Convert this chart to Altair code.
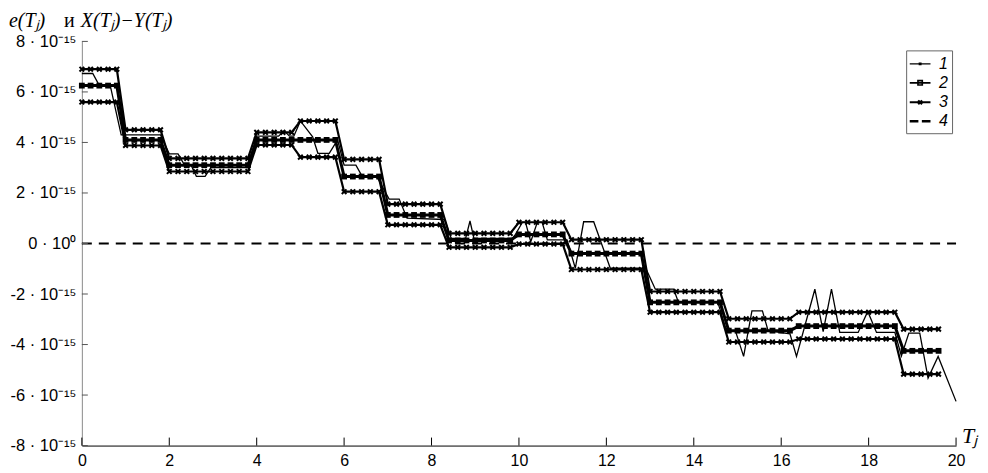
import altair as alt
import pandas as pd

# ---------------- data (values in units of 1e-15) ----------------
T_GRID = [0.0, 0.2, 0.4, 0.6, 0.8, 1.0, 1.2, 1.4, 1.6, 1.8,
          2.0, 2.2, 2.4, 2.6, 2.8, 3.0, 3.2, 3.4, 3.6, 3.8,
          4.0, 4.2, 4.4, 4.6, 4.8, 5.0, 5.2, 5.4, 5.6, 5.8,
          6.0, 6.2, 6.4, 6.6, 6.8, 7.0, 7.2, 7.4, 7.6, 7.8,
          8.0, 8.2, 8.4, 8.6, 8.8, 9.0, 9.2, 9.4, 9.6, 9.8,
          10.0, 10.2, 10.4, 10.6, 10.8, 11.0, 11.2, 11.4, 11.6, 11.8,
          12.0, 12.2, 12.4, 12.6, 12.8, 13.0, 13.2, 13.4, 13.6, 13.8,
          14.0, 14.2, 14.4, 14.6, 14.8, 15.0, 15.2, 15.4, 15.6, 15.8,
          16.0, 16.2, 16.4, 16.6, 16.8, 17.0, 17.2, 17.4, 17.6, 17.8,
          18.0, 18.2, 18.4, 18.6, 18.8, 19.0, 19.2, 19.4, 19.6]

# series 2 (squares)
S2 = [6.25, 6.25, 6.25, 6.25, 6.25,
      4.1, 4.1, 4.1, 4.1, 4.1,
      3.1, 3.1, 3.1, 3.1, 3.1, 3.1, 3.1, 3.1, 3.1, 3.1,
      4.1, 4.1, 4.1, 4.1, 4.1,
      4.1, 4.1, 4.1, 4.1, 4.1,
      2.65, 2.65, 2.65, 2.65, 2.65,
      1.13, 1.13, 1.13, 1.13, 1.13, 1.13, 1.13,
      0.12, 0.12, 0.12, 0.12, 0.12, 0.12, 0.12, 0.12,
      0.36, 0.36, 0.36, 0.36, 0.36, 0.36,
      -0.4, -0.4, -0.4, -0.4, -0.4, -0.4, -0.4, -0.4, -0.4,
      -2.33, -2.33, -2.33, -2.33, -2.33, -2.33, -2.33, -2.33, -2.33,
      -3.45, -3.45, -3.45, -3.45, -3.45, -3.45, -3.45, -3.45,
      -3.27, -3.27, -3.27, -3.27, -3.27, -3.27, -3.27, -3.27, -3.27, -3.27, -3.27, -3.27,
      -4.25, -4.25, -4.25, -4.25, -4.25]

# series 3 upper bound (x markers)
S3_UP = [6.9, 6.9, 6.9, 6.9, 6.9,
         4.5, 4.5, 4.5, 4.5, 4.5,
         3.37, 3.37, 3.37, 3.37, 3.37, 3.37, 3.37, 3.37, 3.37, 3.37,
         4.4, 4.4, 4.4, 4.4, 4.4,
         4.85, 4.85, 4.85, 4.85, 4.85,
         3.33, 3.33, 3.33, 3.33, 3.33,
         1.56, 1.56, 1.56, 1.56, 1.56, 1.56, 1.56,
         0.4, 0.4, 0.4, 0.4, 0.4, 0.4, 0.4, 0.4,
         0.84, 0.84, 0.84, 0.84, 0.84, 0.84,
         0.15, 0.15, 0.15, 0.15, 0.15, 0.15, 0.15, 0.15, 0.15,
         -1.9, -1.9, -1.9, -1.9, -1.9, -1.9, -1.9, -1.9, -1.9,
         -2.98, -2.98, -2.98, -2.98, -2.98, -2.98, -2.98, -2.98,
         -2.72, -2.72, -2.72, -2.72, -2.72, -2.72, -2.72, -2.72, -2.72, -2.72, -2.72, -2.72,
         -3.39, -3.39, -3.39, -3.39, -3.39]

# series 3 lower bound (x markers)
S3_LO = [5.6, 5.6, 5.6, 5.6, 5.6,
         3.88, 3.88, 3.88, 3.88, 3.88,
         2.85, 2.85, 2.85, 2.85, 2.85, 2.85, 2.85, 2.85, 2.85, 2.85,
         3.9, 3.9, 3.9, 3.9, 3.9,
         3.42, 3.42, 3.42, 3.42, 3.42,
         2.05, 2.05, 2.05, 2.05, 2.05,
         0.74, 0.74, 0.74, 0.74, 0.74, 0.74, 0.74,
         -0.15, -0.15, -0.15, -0.15, -0.15, -0.15, -0.15, -0.15,
         -0.02, -0.02, -0.02, -0.02, -0.02, -0.02,
         -1.03, -1.03, -1.03, -1.03, -1.03, -1.03, -1.03, -1.03, -1.03,
         -2.72, -2.72, -2.72, -2.72, -2.72, -2.72, -2.72, -2.72, -2.72,
         -3.9, -3.9, -3.9, -3.9, -3.9, -3.9, -3.9, -3.9,
         -3.78, -3.78, -3.78, -3.78, -3.78, -3.78, -3.78, -3.78, -3.78, -3.78, -3.78, -3.78,
         -5.17, -5.17, -5.17, -5.17, -5.17]

# series 1 (thin line, vertices)
T1 = [0.0, 0.25, 0.4, 0.65, 0.9, 1.8, 2.0, 2.2, 2.35, 2.5,
      2.62, 2.82, 2.95, 3.8, 4.0, 4.5, 4.63, 4.75, 4.85, 5.0,
      5.28, 5.4, 5.66, 5.85, 6.0, 6.27, 6.42, 6.75, 7.03, 7.26,
      7.44, 8.3, 8.45, 8.78, 8.88, 8.97, 9.85, 9.92, 10.08, 10.15,
      10.27, 10.42, 10.53, 10.65, 11.1, 11.29, 11.48, 11.71, 12.09, 12.9,
      13.12, 13.54, 13.65, 14.55, 14.75, 14.95, 15.14, 15.33, 15.57, 15.7,
      16.2, 16.35, 16.77, 16.96, 17.15, 17.34, 17.76, 17.98, 18.18, 18.6,
      18.75, 18.92, 19.17, 19.36, 19.59, 20.0]
V1 = [6.73, 6.73, 6.25, 6.25, 4.3, 4.3, 3.55, 3.55, 3.1, 3.1,
      2.66, 2.66, 3.0, 3.0, 4.25, 4.25, 4.46, 4.25, 4.25, 4.85,
      4.22, 3.57, 3.57, 4.1, 3.1, 3.1, 2.64, 2.64, 1.76, 1.76,
      1.0, 0.95, 0.2, 0.2, 0.89, 0.2, 0.2, 0.36, 0.84, 0.84,
      0.07, 0.84, 0.84, 0.14, 0.14, -0.98, 0.86, 0.86, -0.98, -0.98,
      -1.81, -1.81, -2.33, -2.33, -3.45, -3.45, -4.47, -2.67, -2.67, -3.45,
      -3.58, -4.47, -1.81, -3.49, -1.81, -3.52, -3.52, -2.69, -3.52, -3.52,
      -4.45, -3.55, -3.55, -5.33, -4.47, -6.25]

# series 4 (dashed zero line)
T4 = [0.0, 20.0]
V4 = [0.0, 0.0]

LEGEND_LABELS = ["1", "2", "3", "4"]
X_TICKS = [0, 2, 4, 6, 8, 10, 12, 14, 16, 18, 20]
Y_TICKS = [-8, -6, -4, -2, 0, 2, 4, 6, 8]
TITLE_PARTS = ["e(T\u2c7c)", "\u0438", "X(T\u2c7c)\u2212Y(T\u2c7c)"]
X_TITLE = "T\u2c7c"

# ---------------- chart ----------------
W, H = 876, 405
SANS = "'Liberation Sans Narrow', 'Liberation Sans', Arial, sans-serif"
SANS_R = "'Liberation Sans', Arial, sans-serif"
SERIF = "'Liberation Serif', 'Times New Roman', serif"
XPATH = "M-1,-1L1,1M-1,1L1,-1"

x_enc = alt.X("T:Q", scale=alt.Scale(domain=[0, 20], nice=False, zero=False),
              axis=alt.Axis(values=X_TICKS, ticks=False, title=None, grid=False,
                            labelFont=SANS, labelFontSize=16, labelColor="black",
                            labelPadding=7, domainColor="black", domainWidth=1,
                            labelFlush=False))
y_enc = alt.Y("V:Q", scale=alt.Scale(domain=[-8, 8], nice=False, zero=False),
              axis=alt.Axis(values=Y_TICKS, ticks=False, title=None, grid=False,
                            labelFont=SANS_R, labelFontSize=16.5, labelColor="black",
                            labelPadding=6, domainColor="#8a8a8a", domainWidth=1,
                            labelFlush=False,
                            labelExpr="datum.value == 0 ? '0 \u00b7 10\u2070' : datum.value + ' \u00b7 10\u207b\u00b9\u2075'"))

df1 = pd.DataFrame({"T": T1, "V": V1})
df2 = pd.DataFrame({"T": T_GRID, "V": S2})
df3u = pd.DataFrame({"T": T_GRID, "V": S3_UP})
df3l = pd.DataFrame({"T": T_GRID, "V": S3_LO})
df4 = pd.DataFrame({"T": T4, "V": V4})

line1 = alt.Chart(df1).mark_line(color="black", strokeWidth=1.3).encode(x=x_enc, y=y_enc)
line2 = alt.Chart(df2).mark_line(color="black", strokeWidth=3).encode(x=x_enc, y=y_enc)
line3u = alt.Chart(df3u).mark_line(color="black", strokeWidth=2.2).encode(x=x_enc, y=y_enc)
line3l = alt.Chart(df3l).mark_line(color="black", strokeWidth=2.2).encode(x=x_enc, y=y_enc)
line4 = alt.Chart(df4).mark_line(color="black", strokeWidth=2, strokeDash=[10, 7]).encode(x=x_enc, y=y_enc)

pts2 = alt.Chart(df2).mark_point(shape="square", filled=True, size=34, color="black",
                                 opacity=1).encode(x=x_enc, y=y_enc)
pts3u = alt.Chart(df3u).mark_point(shape=XPATH, filled=False, size=22, color="black",
                                   strokeWidth=2, opacity=1).encode(x=x_enc, y=y_enc)
pts3l = alt.Chart(df3l).mark_point(shape=XPATH, filled=False, size=22, color="black",
                                   strokeWidth=2, opacity=1).encode(x=x_enc, y=y_enc)

# inward tick marks
yt = alt.Chart(pd.DataFrame({"V": Y_TICKS})).mark_rule(color="#555", strokeWidth=1).encode(
    y=y_enc, x=alt.value(0), x2=alt.value(6))
xt = alt.Chart(pd.DataFrame({"T": X_TICKS})).mark_rule(color="black", strokeWidth=1).encode(
    x=x_enc, y=alt.value(H), y2=alt.value(H - 8))

# legend (built from legend labels via shape scale)
LEG_PATHS = ["M-1.2,0H1.2M-0.1,-0.1H0.1V0.1H-0.1Z",
             "M-1.2,0H1.2M-0.25,-0.25H0.25V0.25H-0.25Z",
             "M-1.2,0H1.2M-0.22,-0.22L0.22,0.22M-0.22,0.22L0.22,-0.22",
             "M-1.2,0H-0.2M0.2,0H1.2"]
leg_params = dict(title=None, orient="none", legendX=826, legendY=9, symbolSize=300,
                  symbolOpacity=1, symbolFillColor="black", symbolStrokeColor="black",
                  labelFont=SANS_R, labelFontStyle="italic", labelFontSize=16,
                  labelColor="black", labelOffset=9, rowPadding=1, padding=4,
                  strokeColor="#666", fillColor="white")
legend_layer = alt.Chart(pd.DataFrame({"series": LEGEND_LABELS})).mark_point(
    color="black", filled=False).encode(
    x=alt.value(-3000), y=alt.value(-3000),
    shape=alt.Shape("series:N", scale=alt.Scale(domain=LEGEND_LABELS, range=LEG_PATHS),
                    legend=alt.Legend(**leg_params)),
    strokeWidth=alt.StrokeWidth("series:N", scale=alt.Scale(domain=LEGEND_LABELS, range=[1.2, 2.5, 2.5, 2]),
                                legend=alt.Legend(**leg_params)))

one = pd.DataFrame({"a": [0]})
TY = -20
title1 = alt.Chart(one).mark_text(text=TITLE_PARTS[0], font=SERIF, fontStyle="italic", fontSize=20,
                                  align="left", baseline="middle", color="black").encode(
    x=alt.value(-73), y=alt.value(TY))
title2 = alt.Chart(one).mark_text(text=TITLE_PARTS[1], font=SERIF, fontSize=20,
                                  align="left", baseline="middle", color="black").encode(
    x=alt.value(-18), y=alt.value(TY))
title3 = alt.Chart(one).mark_text(text=TITLE_PARTS[2], font=SERIF, fontStyle="italic", fontSize=20,
                                  align="left", baseline="middle", color="black").encode(
    x=alt.value(-1), y=alt.value(TY))
xtitle = alt.Chart(one).mark_text(text=X_TITLE, font=SERIF, fontStyle="italic", fontSize=22,
                                  align="left", baseline="middle", color="black").encode(
    x=alt.value(W + 6), y=alt.value(H - 10))

chart = alt.layer(
    line4, line1, line3u, line3l, line2, pts3u, pts3l, pts2, yt, xt, legend_layer,
    title1, title2, title3, xtitle
).properties(
    width=W, height=H,
    autosize=alt.AutoSizeParams(type="none"),
    padding={"left": 74, "top": 33, "right": 24, "bottom": 26},
    background="white",
).configure_view(stroke=None, clip=False)

chart.save("out.html", embed_options={"renderer": "svg", "actions": False})
